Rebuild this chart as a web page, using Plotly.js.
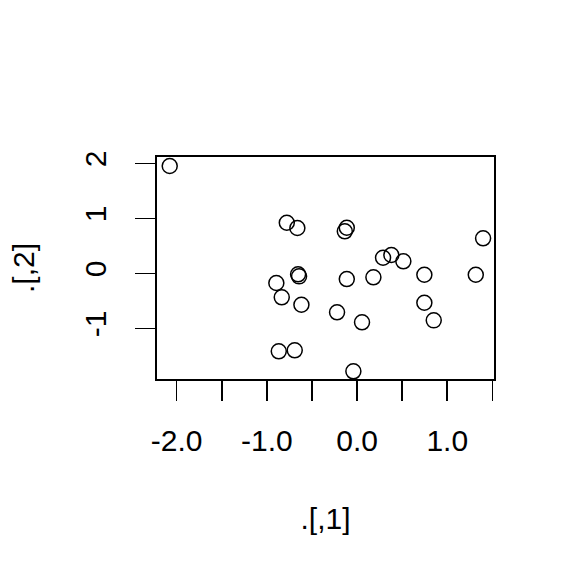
<!DOCTYPE html>
<html>
<head>
<meta charset="utf-8">
<script src="https://cdn.plot.ly/plotly-3.0.1.min.js"></script>
<style>html,body{margin:0;padding:0;background:#fff;}#plot{width:576px;height:576px;}</style>
</head>
<body>
<div id="plot"></div>
<script>
var xValues = [-2.077, -0.779, -0.662, -0.654, -0.643, -0.895, -0.835, -0.617, -0.868, -0.691,
               -0.114, -0.136, 1.397, 0.288, 0.380, 0.513, -0.114, 0.181, 0.746, 1.316,
               0.746, 0.850, -0.222, 0.055, -0.041];
var yValues = [1.951, 0.920, 0.824, -0.018, -0.055, -0.176, -0.436, -0.571, -1.418, -1.400,
               0.829, 0.764, 0.636, 0.284, 0.333, 0.218, -0.104, -0.073, -0.025, -0.025,
               -0.535, -0.855, -0.709, -0.891, -1.782];
var xTickVals = [-2.0, -1.5, -1.0, -0.5, 0.0, 0.5, 1.0, 1.5];
var xTickText = ["-2.0", "", "-1.0", "", "0.0", "", "1.0", ""];
var yTickVals = [-1, 0, 1, 2];
var yTickText = ["-1", "0", "1", "2"];
var xLabel = ".[,1]";
var yLabel = ".[,2]";

var font = {family: "Liberation Sans, Arial, Helvetica, sans-serif", size: 30, color: "#000"};

var trace = {
  x: xValues, y: yValues, type: "scatter", mode: "markers",
  marker: {symbol: "circle-open", size: 15, color: "#000", line: {width: 1.5, color: "#000"}},
  hoverinfo: "none"
};

var layout = {
  width: 576, height: 576,
  margin: {l: 157, r: 82, t: 157, b: 197, pad: 0},
  paper_bgcolor: "#fff", plot_bgcolor: "#fff",
  showlegend: false,
  font: font,
  xaxis: {
    range: [-2.218, 1.518], tickmode: "array", tickvals: xTickVals, ticktext: xTickText,
    ticks: "outside", ticklen: 20, tickwidth: 1.6, tickcolor: "#000",
    showline: true, linecolor: "#000", linewidth: 1.6, mirror: true,
    showgrid: false, zeroline: false, tickfont: font, ticklabelstandoff: 14,
    title: {text: xLabel, font: font, standoff: 52}, automargin: false
  },
  yaxis: {
    range: [-1.921, 2.115], tickmode: "array", tickvals: yTickVals, ticktext: yTickText,
    ticks: "outside", ticklen: 20, tickwidth: 1.6, tickcolor: "#000",
    showline: true, linecolor: "#000", linewidth: 1.6, mirror: true,
    showgrid: false, zeroline: false, tickfont: font, tickangle: -90, ticklabelstandoff: 17,
    title: {text: yLabel, font: font, standoff: 36}, automargin: false
  }
};

Plotly.newPlot("plot", [trace], layout, {staticPlot: true, displayModeBar: false});
</script>
</body>
</html>
